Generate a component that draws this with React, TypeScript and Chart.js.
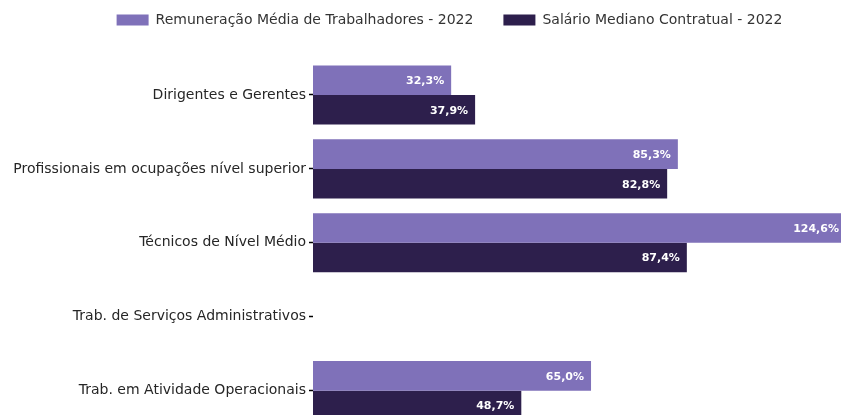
import React, { useEffect, useRef } from "react";
import { Chart, registerables } from "chart.js";

Chart.register(...registerables);

const categories = [
  "Dirigentes e Gerentes",
  "Profissionais em ocupações nível superior",
  "Técnicos de Nível Médio",
  "Trab. de Serviços Administrativos",
  "Trab. em Atividade Operacionais",
];
const seriesNames = [
  "Remuneração Média de Trabalhadores - 2022",
  "Salário Mediano Contratual - 2022",
];
const remuneracao: (number | null)[] = [32.3, 85.3, 124.6, null, 65.0];
const salario: (number | null)[] = [37.9, 82.8, 87.4, null, 48.7];
const colors = ["#7F71B9", "#2D1F4C"];

const FONT = "'DejaVu Sans', sans-serif";

const valueLabels = {
  id: "valueLabels",
  afterDatasetsDraw(chart: any) {
    const ctx = chart.ctx;
    ctx.save();
    ctx.font = `bold 11px ${FONT}`;
    ctx.fillStyle = "#ffffff";
    ctx.textAlign = "right";
    ctx.textBaseline = "middle";
    chart.data.datasets.forEach((ds: any, di: number) => {
      const meta = chart.getDatasetMeta(di);
      meta.data.forEach((bar: any, i: number) => {
        const v = ds.data[i];
        if (v === null || v === undefined) return;
        const txt = v.toFixed(1).replace(".", ",") + "%";
        ctx.fillText(txt, bar.x - 7, bar.y + 1);
      });
    });
    ctx.restore();
  },
};

export default function App() {
  const ref = useRef<HTMLCanvasElement>(null);
  useEffect(() => {
    if (!ref.current) return;
    const chart = new Chart(ref.current, {
      type: "bar",
      data: {
        labels: categories,
        datasets: [
          {
            label: seriesNames[0],
            data: remuneracao,
            backgroundColor: colors[0],
            borderWidth: 0,
            categoryPercentage: 0.8,
            barPercentage: 1.0,
          },
          {
            label: seriesNames[1],
            data: salario,
            backgroundColor: colors[1],
            borderWidth: 0,
            categoryPercentage: 0.8,
            barPercentage: 1.0,
          },
        ],
      },
      options: {
        indexAxis: "y",
        responsive: false,
        animation: false,
        layout: { padding: { top: -17, left: 0, right: 0, bottom: 0 } },
        plugins: {
          legend: {
            position: "top",
            labels: {
              boxWidth: 32,
              boxHeight: 11,
              padding: 30,
              color: "#333333",
              font: { family: FONT, size: 14 },
            },
          },
          tooltip: { enabled: false },
        },
        scales: {
          x: {
            position: "top",
            min: 0,
            max: 137,
            ticks: { display: false },
            grid: { display: false },
            border: { display: false },
            afterFit: (s: any) => {
              s.height = 21;
            },
          },
          y: {
            ticks: {
              color: "#262626",
              padding: 3,
              font: { family: FONT, size: 14 },
            },
            grid: {
              display: true,
              offset: false,
              drawOnChartArea: false,
              drawTicks: true,
              tickLength: 4,
              tickWidth: 1.5,
              tickColor: "#000000",
              color: "#000000",
            },
            border: { display: false },
            afterFit: (s: any) => {
              s.width = 313;
            },
          },
        },
      },
      plugins: [valueLabels],
    });
    return () => chart.destroy();
  }, []);
  return (
    <div
      style={{
        position: "absolute",
        left: 0,
        top: 0,
        width: 841,
        height: 415,
        overflow: "hidden",
        background: "#ffffff",
      }}
    >
      <canvas ref={ref} width={899} height={439} style={{ display: "block" }} />
    </div>
  );
}
